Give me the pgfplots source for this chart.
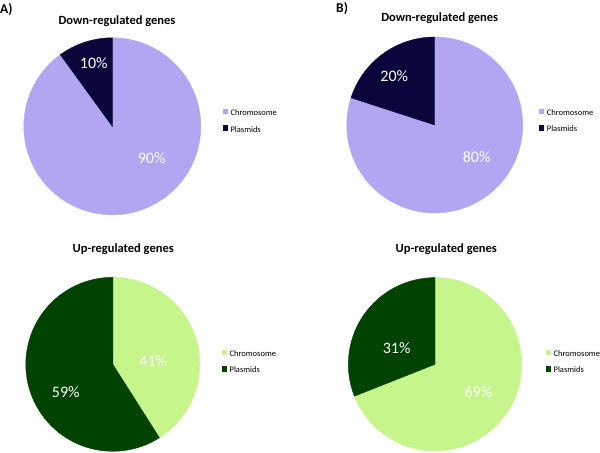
\documentclass[border=0pt]{standalone}
\usepackage{fontspec}
\setmainfont{Carlito}
\usepackage{pgfplots}
\pgfplotsset{compat=1.18}
\usepackage{pgfplotstable}
\definecolor{lav}{RGB}{178,165,242}
\definecolor{navy}{RGB}{10,6,60}
\definecolor{lgreen}{RGB}{198,245,139}
\definecolor{dgreen}{RGB}{0,66,0}
\pgfdeclareplotmark{blank}{}
\def\pieR{88bp}

% colour index ci: 0 lavender, 1 navy, 2 light green, 3 dark green
\pgfplotstableread{
x y pct cum ci lx ly
0 0 90 0 0 0.445 -0.36
0 0 10 90 1 -0.21 0.71
}\downA
\pgfplotstableread{
x y pct cum ci lx ly
0 0 80 0 0 0.477 -0.36
0 0 20 80 1 -0.46 0.557
}\downB
\pgfplotstableread{
x y pct cum ci lx ly
0 0 41 0 2 0.466 0.038
0 0 59 41 3 -0.541 -0.322
}\upA
\pgfplotstableread{
x y pct cum ci lx ly
0 0 69 0 2 0.5 -0.323
0 0 31 69 3 -0.442 0.184
}\upB

\pgfplotsset{
  legsq/.style={legend image code/.code={\fill[#1] (0bp,0.2bp) rectangle (4.3bp,4.5bp);}},
  pieaxis/.style={hide axis, scale only axis, xmin=-1, xmax=1, ymin=-1, ymax=1,
    clip=false, anchor=center,
    title style={font=\bfseries\fontsize{12.5bp}{15bp}\selectfont, anchor=base},
    legend style={anchor=west, draw=none, fill=none, inner sep=0pt, outer sep=0pt,
      font=\fontsize{8.5bp}{10bp}\selectfont, row sep=8bp,
      /tikz/every odd column/.append style={column sep=3.2bp},
      nodes={inner sep=0pt, text height=6bp, text depth=2bp}},
    legend cell align=left,
  },
  wedges/.style={forget plot, scatter, only marks, mark=blank,
    point meta=\thisrow{pct}, point meta min=0, point meta max=100,
    visualization depends on={\thisrow{pct}\as\pct},
    visualization depends on={\thisrow{cum}\as\cum},
    visualization depends on={\thisrow{ci}\as\ci},
    scatter/@pre marker code/.code={%
      \pgfmathsetmacro\sa{90-3.6*\cum}%
      \pgfmathsetmacro\ea{90-3.6*(\cum+\pct)}%
      \pgfmathtruncatemacro\cidx{\ci}%
      \ifcase\cidx \def\cc{lav}\or \def\cc{navy}\or \def\cc{lgreen}\or \def\cc{dgreen}\fi
      \fill[color=\cc] (0bp,0bp) -- (\sa:\pieR) arc[start angle=\sa, end angle=\ea, radius=\pieR] -- cycle;
    },
    scatter/@post marker code/.code={},
  },
  pielabels/.style={forget plot, only marks, mark=blank, point meta=explicit symbolic,
    nodes near coords={\pgfplotspointmeta\%},
    nodes near coords style={anchor=center, text=white, inner sep=0pt,
      font=\fontsize{16bp}{19bp}\selectfont}},
}

\begin{document}
\begin{tikzpicture}
\useasboundingbox (0bp,0bp) rectangle (600bp,453bp);

\node[anchor=base west, inner sep=0pt, font=\bfseries\fontsize{13.5bp}{16bp}\selectfont] at (0bp,439.7bp) {A)};
\node[anchor=base west, inner sep=0pt, font=\bfseries\fontsize{13.5bp}{16bp}\selectfont] at (336bp,440.3bp) {B)};

% A down
\def\pieR{88.5bp}
\begin{axis}[pieaxis, at={(112.3bp,326.7bp)}, width=177bp, height=177bp,
  title={Down-regulated genes}, title style={at={(0.5265,1.04)}},
  legend style={at={(1.1235,0.528)}}]
\addplot[wedges] table[x=x, y=y] {\downA};
\addplot[pielabels] table[x=lx, y=ly, meta=pct] {\downA};
\addlegendimage{legsq=lav}
\addlegendimage{legsq=navy}
\legend{Chromosome, Plasmids}
\end{axis}

% B down
\def\pieR{88bp}
\begin{axis}[pieaxis, at={(434.7bp,328bp)}, width=176bp, height=176bp,
  title={Down-regulated genes}, title style={at={(0.5285,1.055)}},
  legend style={at={(1.0925,0.521)}}]
\addplot[wedges] table[x=x, y=y] {\downB};
\addplot[pielabels] table[x=lx, y=ly, meta=pct] {\downB};
\addlegendimage{legsq=lav}
\addlegendimage{legsq=navy}
\legend{Chromosome, Plasmids}
\end{axis}

% A up
\def\pieR{87bp}
\begin{axis}[pieaxis, at={(112.8bp,88.7bp)}, width=174bp, height=174bp,
  title={Up-regulated genes}, title style={at={(0.56,1.109)}},
  legend style={at={(1.126,0.512)}}]
\addplot[wedges] table[x=x, y=y] {\upA};
\addplot[pielabels] table[x=lx, y=ly, meta=pct] {\upA};
\addlegendimage{legsq=lgreen}
\addlegendimage{legsq=dgreen}
\legend{Chromosome, Plasmids}
\end{axis}

% B up
\def\pieR{86.7bp}
\begin{axis}[pieaxis, at={(435bp,88.7bp)}, width=173.4bp, height=173.4bp,
  title={Up-regulated genes}, title style={at={(0.565,1.1115)}},
  legend style={at={(1.1385,0.512)}}]
\addplot[wedges] table[x=x, y=y] {\upB};
\addplot[pielabels] table[x=lx, y=ly, meta=pct] {\upB};
\addlegendimage{legsq=lgreen}
\addlegendimage{legsq=dgreen}
\legend{Chromosome, Plasmids}
\end{axis}
\end{tikzpicture}
\end{document}
